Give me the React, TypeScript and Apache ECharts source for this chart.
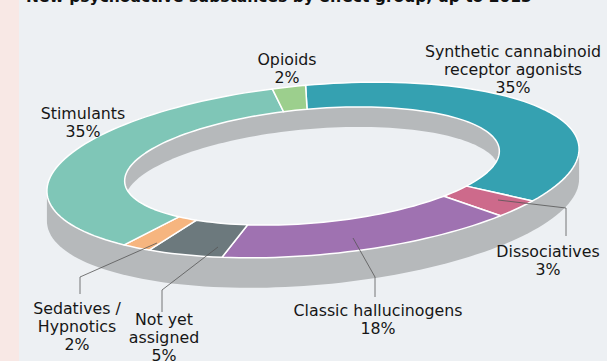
import React, { useEffect, useRef } from 'react';
import * as echarts from 'echarts';

const title = 'New psychoactive substances by effect group, up to 2013';
const categories = [
  'Synthetic cannabinoid receptor agonists',
  'Dissociatives',
  'Classic hallucinogens',
  'Not yet assigned',
  'Sedatives / Hypnotics',
  'Stimulants',
  'Opioids',
];
const labelNames = [
  'Synthetic cannabinoid\nreceptor agonists',
  'Dissociatives',
  'Classic hallucinogens',
  'Not yet\nassigned',
  'Sedatives /\nHypnotics',
  'Stimulants',
  'Opioids',
];
const shares = [35, 3, 18, 5, 2, 35, 2];
const colors = ['#35a1b1', '#cd6a8b', '#9f72b1', '#6c797d', '#f6b57f', '#7fc6b7', '#9ccf8d'];

// label layout (centre x, top y, optional leader line)
const labelLayout: { x: number; y: number; line?: number[][] }[] = [
  { x: 513, y: 42 },
  { x: 548, y: 242, line: [[498, 200], [566, 208], [566, 236]] },
  { x: 378, y: 301, line: [[353, 238], [375, 277], [375, 297]] },
  { x: 164, y: 310, line: [[218, 247], [162, 290], [162, 312]] },
  { x: 77, y: 299, line: [[157, 243], [80, 277], [80, 294]] },
  { x: 83, y: 104 },
  { x: 287, y: 50 },
];

const BG = '#edf0f3';
const SIDE = '#b6b9bb';
const ROT = (-5 * Math.PI) / 180;
const OUTER = { cx: 313, cy: 170, a: 267, b: 85 };
const INNER = { cx: 312, cy: 166, a: 188, b: 57 };
const DEPTH_OUT = 30;
const DEPTH_IN = 20;

type Ell = { cx: number; cy: number; a: number; b: number };
function pt(e: Ell, tDeg: number, dy = 0): number[] {
  const t = (tDeg * Math.PI) / 180;
  const lx = e.a * Math.cos(t);
  const ly = e.b * Math.sin(t);
  return [
    e.cx + lx * Math.cos(ROT) - ly * Math.sin(ROT),
    e.cy + lx * Math.sin(ROT) + ly * Math.cos(ROT) + dy,
  ];
}
function arc(e: Ell, t0: number, t1: number, dy = 0): number[][] {
  const n = Math.max(4, Math.ceil(Math.abs(t1 - t0) / 2));
  const out: number[][] = [];
  for (let i = 0; i <= n; i++) out.push(pt(e, t0 + ((t1 - t0) * i) / n, dy));
  return out;
}

export default function App() {
  const ref = useRef<HTMLDivElement>(null);
  useEffect(() => {
    if (!ref.current) return;
    const chart = echarts.init(ref.current, undefined, { renderer: 'svg' });

    let cum = 0;
    const ringData = shares.map((v, i) => {
      const s = cum;
      cum += v;
      return { name: categories[i], value: [s, cum, i] };
    });

    const tR = (Math.atan2(-OUTER.b * Math.sin(ROT), OUTER.a * Math.cos(ROT)) * 180) / Math.PI;

    const graphics: any[] = [
      { type: 'rect', shape: { x: 0, y: 0, width: 19, height: 361 }, style: { fill: '#f8e8e5' }, z: 100 },
      {
        type: 'text',
        x: 26,
        y: -3,
        style: {
          text: title,
          font: 'bold 15.5px "DejaVu Sans"',
          fill: '#111',
          align: 'left',
          verticalAlign: 'middle',
        },
        z: 100,
      },
    ];
    labelLayout.forEach((l, i) => {
      if (l.line) {
        graphics.push({
          type: 'polyline',
          shape: { points: l.line },
          style: { stroke: '#555', lineWidth: 0.8, fill: 'none' },
          z: 100,
        });
      }
      graphics.push({
        type: 'text',
        x: l.x,
        y: l.y,
        style: {
          text: labelNames[i] + '\n' + shares[i] + '%',
          font: '15.8px "DejaVu Sans"',
          fill: '#161616',
          align: 'center',
          verticalAlign: 'top',
          lineHeight: 18,
        },
        z: 100,
      });
    });

    chart.setOption({
      animation: false,
      backgroundColor: BG,
      graphic: graphics,
      series: [
        {
          type: 'custom',
          coordinateSystem: 'none',
          z: 1,
          silent: true,
          data: [[0]],
          renderItem: () => {
            const hull = arc(OUTER, tR + 180, tR + 360, 0).concat(arc(OUTER, tR, tR + 180, DEPTH_OUT));
            return {
              type: 'group',
              children: [
                { type: 'polygon', shape: { points: hull }, style: { fill: SIDE } },
                { type: 'polygon', shape: { points: arc(INNER, 0, 360, 0) }, style: { fill: SIDE } },
                { type: 'polygon', shape: { points: arc(INNER, 0, 360, DEPTH_IN) }, style: { fill: BG } },
              ],
            };
          },
        },
        {
          type: 'custom',
          coordinateSystem: 'none',
          z: 2,
          silent: true,
          data: ringData,
          renderItem: (params: any, api: any) => {
            const s = api.value(0);
            const e = api.value(1);
            const idx = api.value(2);
            const t0 = -90 + s * 3.6;
            const t1 = -90 + e * 3.6;
            const pts = arc(OUTER, t0, t1).concat(arc(INNER, t1, t0));
            return {
              type: 'polygon',
              shape: { points: pts },
              style: { fill: colors[idx], stroke: '#ffffff', lineWidth: 1.5, lineJoin: 'round' },
            };
          },
        },
      ],
    });
    return () => chart.dispose();
  }, []);
  return <div ref={ref} style={{ position: 'fixed', left: 0, top: 0, width: 607, height: 361 }} />;
}
